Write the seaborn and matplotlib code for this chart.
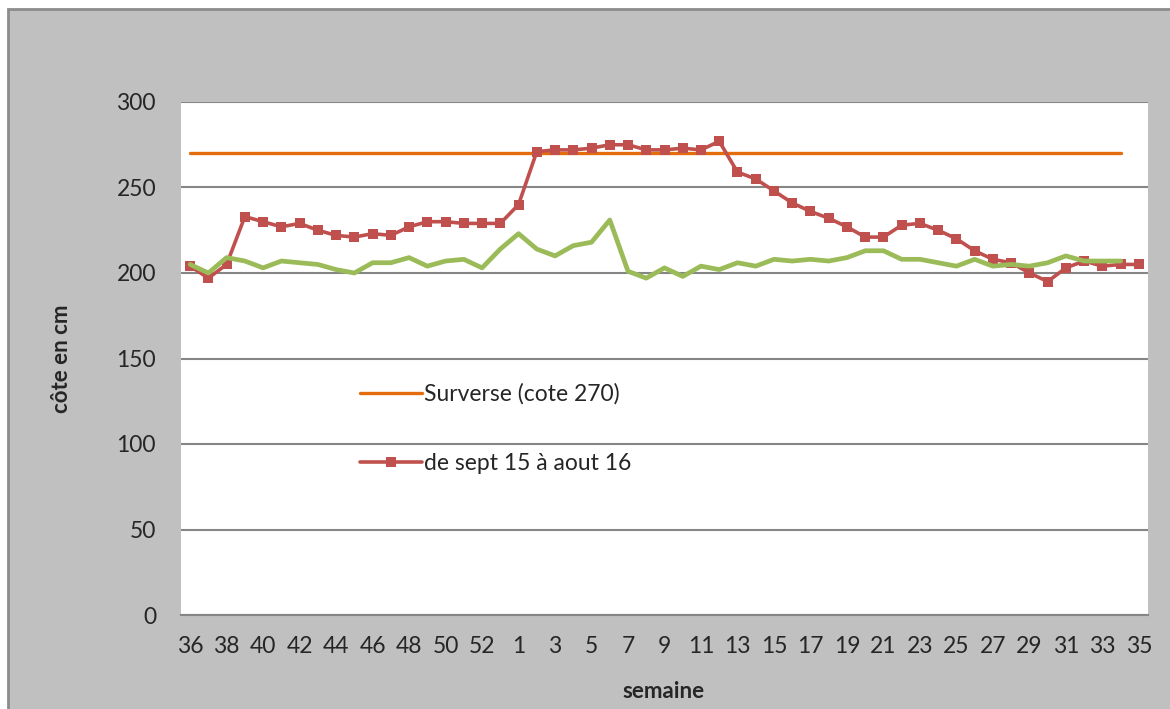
import numpy as np
import pandas as pd
import matplotlib.pyplot as plt
import matplotlib.patches as patches
import seaborn as sns

# semaines de sept 2015 (sem 36) a aout 2016 (sem 35), 2015 a 53 semaines
weeks = list(range(36, 54)) + list(range(1, 36))

surverse = [270] * 52 + [np.nan]

niveau = [204, 197, 205, 233, 230, 227, 229, 225, 222, 221, 223, 222, 227,
          230, 230, 229, 229, 229,
          240, 271, 272, 272, 273, 275, 275, 272, 272, 273, 272, 277, 259,
          255, 248, 241, 236, 232, 227, 221, 221, 228, 229, 225, 220, 213,
          208, 206, 200, 195, 203, 207, 204, 205, 205]

autre = [205, 200, 209, 207, 203, 207, 206, 205, 202, 200, 206, 206, 209,
         204, 207, 208, 203, 214,
         223, 214, 210, 216, 218, 231, 201, 197, 203, 198, 204, 202, 206,
         204, 208, 207, 208, 207, 209, 213, 213, 208, 208, 206, 204, 208,
         204, 205, 204, 206, 210, 207, 207, 207, np.nan]

df = pd.DataFrame({"pos": np.arange(len(weeks)), "semaine": weeks,
                   "surverse": surverse, "niveau": niveau, "autre": autre})

sns.set_style("white")
plt.rcParams['font.family'] = ['Lato', 'DejaVu Sans']

fig = plt.figure(figsize=(11.7, 7.09), dpi=100, facecolor="white")
fig.patches.append(patches.Rectangle((8 / 1170, -0.1), 1.2, 1.1 - 9 / 709,
                                     transform=fig.transFigure, facecolor="#C0C0C0",
                                     edgecolor="#8C8C8C", linewidth=2, zorder=-10))
ax = fig.add_axes([181 / 1170, 1 - 615 / 709, 967 / 1170, 513 / 709])
ax.set_facecolor("white")

sns.lineplot(data=df, x="pos", y="surverse", color="#E46C0A", linewidth=2.4,
             label="Surverse (cote 270)", ax=ax)
sns.lineplot(data=df, x="pos", y="niveau", color="#C0504D", linewidth=2.6,
             marker="s", markersize=7, markeredgewidth=0,
             label="de sept 15 à aout 16", ax=ax)
sns.lineplot(data=df, x="pos", y="autre", color="#9BBB59", linewidth=3.4,
             legend=False, ax=ax)

ax.set_xlim(-0.5, len(weeks) - 0.5)
ax.set_ylim(0, 300)
ax.set_yticks(range(0, 301, 50))
ax.set_xticks(df["pos"][::2])
ax.set_xticklabels(df["semaine"][::2])
ax.tick_params(axis="both", length=0, labelsize=16.5)
ax.tick_params(axis="y", pad=18)
ax.tick_params(axis="x", pad=15)
ax.grid(axis="y", color="#868686", linewidth=1.5)
ax.set_axisbelow(True)
for s in ["top", "right", "left"]:
    ax.spines[s].set_visible(False)
ax.spines["bottom"].set_color("#868686")
ax.spines["bottom"].set_linewidth(1.5)

ax.set_xlabel("semaine", fontsize=16, fontweight="bold")
ax.set_ylabel("côte en cm", fontsize=16, fontweight="bold")
ax.xaxis.set_label_coords(0.499, -0.128)
ax.yaxis.set_label_coords(-0.113, 0.5)

ax.legend(loc="upper left", bbox_to_anchor=(0.185, 0.452), frameon=False,
          fontsize=16.5, handlelength=2.7, handletextpad=0.1, labelspacing=2.1,
          borderpad=0, borderaxespad=0)

fig.savefig("out.png", dpi=100, facecolor=fig.get_facecolor())
